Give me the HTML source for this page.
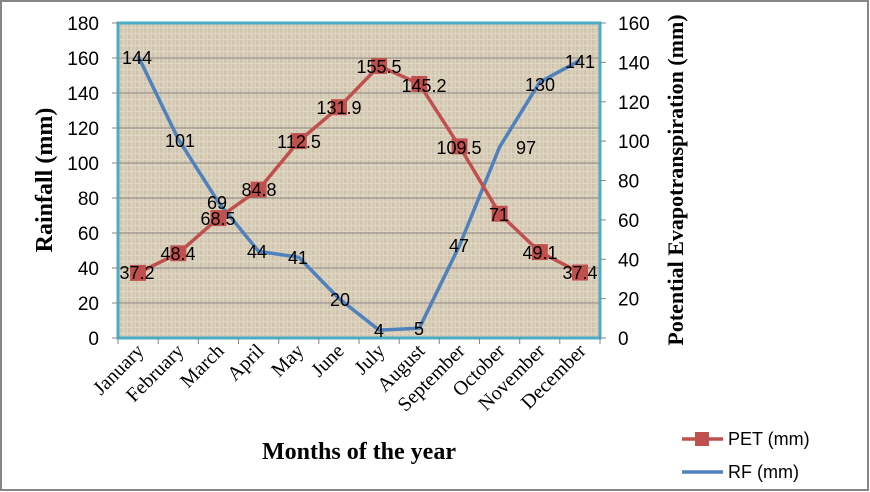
<!DOCTYPE html>
<html><head><meta charset="utf-8"><style>
html,body{margin:0;padding:0;background:#fff}
svg{display:block}
</style></head><body>
<svg width="870" height="492" viewBox="0 0 870 492" xmlns="http://www.w3.org/2000/svg">
<defs>
<pattern id="tex" width="8" height="6" patternUnits="userSpaceOnUse">
<rect width="8" height="6" fill="#d9cfbb"/>
<rect x="0" y="0" width="2" height="6" fill="#cfc4ad"/>
<rect x="0" y="3" width="8" height="1" fill="#e2d9c7"/>
<rect x="5" y="0" width="1" height="6" fill="#d2c7b1"/>
</pattern>
</defs>
<rect x="1" y="1" width="867" height="489" fill="#fff" stroke="#868686" stroke-width="2"/>
<rect x="118" y="23" width="482" height="315" fill="url(#tex)"/>
<g stroke="#8a8580" stroke-width="1">
<line x1="118" x2="600" y1="58" y2="58"/><line x1="118" x2="600" y1="93" y2="93"/>
<line x1="118" x2="600" y1="128" y2="128"/><line x1="118" x2="600" y1="163" y2="163"/>
<line x1="118" x2="600" y1="198" y2="198"/><line x1="118" x2="600" y1="233" y2="233"/>
<line x1="118" x2="600" y1="268" y2="268"/><line x1="118" x2="600" y1="303" y2="303"/>
</g>
<rect x="118" y="23" width="482" height="315" fill="none" stroke="#4bacc6" stroke-width="3"/>
<g stroke="#868686" stroke-width="1">
<line x1="112" x2="118" y1="23" y2="23"/><line x1="112" x2="118" y1="58" y2="58"/><line x1="112" x2="118" y1="93" y2="93"/><line x1="112" x2="118" y1="128" y2="128"/><line x1="112" x2="118" y1="163" y2="163"/><line x1="112" x2="118" y1="198" y2="198"/><line x1="112" x2="118" y1="233" y2="233"/><line x1="112" x2="118" y1="268" y2="268"/><line x1="112" x2="118" y1="303" y2="303"/><line x1="112" x2="118" y1="338" y2="338"/>
<line x1="600" x2="606" y1="23" y2="23"/><line x1="600" x2="606" y1="62.4" y2="62.4"/><line x1="600" x2="606" y1="101.8" y2="101.8"/><line x1="600" x2="606" y1="141.1" y2="141.1"/><line x1="600" x2="606" y1="180.5" y2="180.5"/><line x1="600" x2="606" y1="219.9" y2="219.9"/><line x1="600" x2="606" y1="259.3" y2="259.3"/><line x1="600" x2="606" y1="298.6" y2="298.6"/><line x1="600" x2="606" y1="338" y2="338"/>
<line x1="118" x2="118" y1="338" y2="344"/><line x1="158.2" x2="158.2" y1="338" y2="344"/><line x1="198.3" x2="198.3" y1="338" y2="344"/><line x1="238.5" x2="238.5" y1="338" y2="344"/><line x1="278.7" x2="278.7" y1="338" y2="344"/><line x1="318.8" x2="318.8" y1="338" y2="344"/><line x1="359" x2="359" y1="338" y2="344"/><line x1="399.2" x2="399.2" y1="338" y2="344"/><line x1="439.3" x2="439.3" y1="338" y2="344"/><line x1="479.5" x2="479.5" y1="338" y2="344"/><line x1="519.7" x2="519.7" y1="338" y2="344"/><line x1="559.8" x2="559.8" y1="338" y2="344"/><line x1="600" x2="600" y1="338" y2="344"/>
</g>
<g font-family="Liberation Sans, sans-serif" font-size="19" fill="#000" text-anchor="end">
<text x="99" y="30">180</text><text x="99" y="65">160</text><text x="99" y="100">140</text><text x="99" y="135">120</text><text x="99" y="170">100</text><text x="99" y="205">80</text><text x="99" y="240">60</text><text x="99" y="275">40</text><text x="99" y="310">20</text><text x="99" y="345">0</text>
</g>
<g font-family="Liberation Sans, sans-serif" font-size="19" fill="#000" text-anchor="start">
<text x="618" y="30">160</text><text x="618" y="69.4">140</text><text x="618" y="108.8">120</text><text x="618" y="148.1">100</text><text x="618" y="187.5">80</text><text x="618" y="226.9">60</text><text x="618" y="266.3">40</text><text x="618" y="305.6">20</text><text x="618" y="345">0</text>
</g>
<g font-family="Liberation Serif, serif" font-size="20" fill="#000" text-anchor="end">
<text transform="translate(145,352) rotate(-45)">January</text>
<text transform="translate(185,352) rotate(-45)">February</text>
<text transform="translate(225,352) rotate(-45)">March</text>
<text transform="translate(265,352) rotate(-45)">April</text>
<text transform="translate(305,352) rotate(-45)">May</text>
<text transform="translate(345,352) rotate(-45)">June</text>
<text transform="translate(386,352) rotate(-45)">July</text>
<text transform="translate(426,352) rotate(-45)">August</text>
<text transform="translate(466,352) rotate(-45)">September</text>
<text transform="translate(506,352) rotate(-45)">October</text>
<text transform="translate(546,352) rotate(-45)">November</text>
<text transform="translate(587,352) rotate(-45)">December</text>
</g>
<g font-family="Liberation Serif, serif" font-weight="bold" fill="#000" text-anchor="middle">
<text x="359" y="459" font-size="24">Months of the year</text>
<text transform="translate(52,180) rotate(-90)" font-size="24">Rainfall (mm)</text>
<text transform="translate(683,180) rotate(-90)" font-size="22">Potential Evapotranspiration (mm)</text>
</g>
<polyline fill="none" stroke="#4f81bd" stroke-width="3.5" stroke-linejoin="round" points="138.1,56 178.3,139.2 218.4,202.2 258.6,251.4 298.8,257.3 339,298.6 379.1,330.1 419.3,328.2 459.5,245.5 499.6,147 539.8,82.1 580,60.4"/>
<polyline fill="none" stroke="#c0504d" stroke-width="3.5" stroke-linejoin="round" points="138.1,272.9 178.3,253.3 218.4,218.1 258.6,189.6 298.8,141.1 339,107.2 379.1,65.9 419.3,83.9 459.5,146.4 499.6,213.75 539.8,252.1 580,272.55"/>
<g fill="#c0504d">
<rect x="130.1" y="264.9" width="16" height="16"/><rect x="170.3" y="245.3" width="16" height="16"/><rect x="210.4" y="210.1" width="16" height="16"/><rect x="250.6" y="181.6" width="16" height="16"/><rect x="290.8" y="133.1" width="16" height="16"/><rect x="331" y="99.2" width="16" height="16"/><rect x="371.1" y="57.9" width="16" height="16"/><rect x="411.3" y="75.9" width="16" height="16"/><rect x="451.5" y="138.4" width="16" height="16"/><rect x="491.6" y="205.75" width="16" height="16"/><rect x="531.8" y="244.1" width="16" height="16"/><rect x="572" y="264.55" width="16" height="16"/>
</g>
<g font-family="Liberation Sans, sans-serif" font-size="18" fill="#000" text-anchor="middle">
<text x="137" y="64">144</text><text x="180" y="147">101</text><text x="217" y="209">69</text><text x="257" y="258">44</text><text x="298" y="264">41</text><text x="340" y="306">20</text><text x="379" y="337">4</text><text x="419" y="335">5</text><text x="459" y="252">47</text><text x="526" y="154">97</text><text x="540" y="91">130</text><text x="580" y="68">141</text>
<text x="137" y="279">37.2</text><text x="178" y="260">48.4</text><text x="218" y="225">68.5</text><text x="259" y="196">84.8</text><text x="299" y="148">112.5</text><text x="339" y="114">131.9</text><text x="379" y="73">155.5</text><text x="424" y="92">145.2</text><text x="459" y="154">109.5</text><text x="499" y="221">71</text><text x="540" y="259">49.1</text><text x="580" y="279">37.4</text>
</g>
<line x1="682" x2="723" y1="439" y2="439" stroke="#c0504d" stroke-width="3.5"/>
<rect x="695" y="432" width="14" height="14" fill="#c0504d"/>
<text x="728" y="445" font-family="Liberation Sans, sans-serif" font-size="18">PET (mm)</text>
<line x1="682" x2="723" y1="472" y2="472" stroke="#4f81bd" stroke-width="3.5"/>
<text x="728" y="478" font-family="Liberation Sans, sans-serif" font-size="18">RF (mm)</text>
</svg>
</body></html>
